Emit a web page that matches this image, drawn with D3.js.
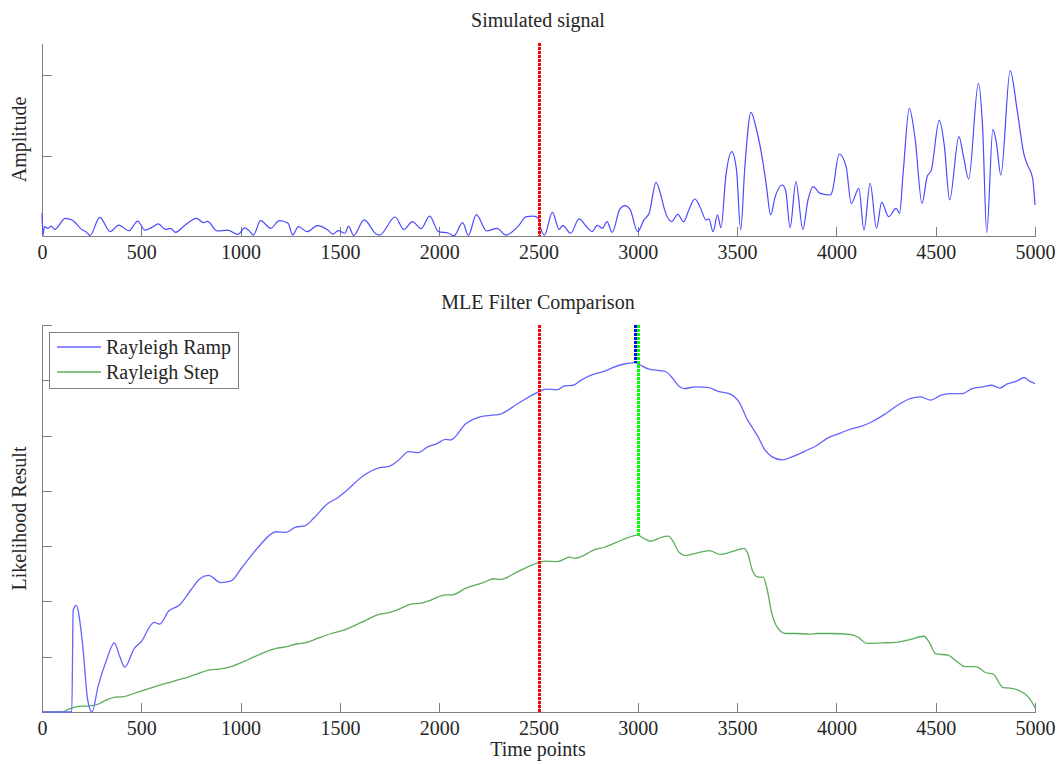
<!DOCTYPE html>
<html lang="en">
<head>
<meta charset="utf-8">
<title>Simulated signal / MLE Filter Comparison</title>
<script src="https://cdn.jsdelivr.net/npm/d3@7"></script>
<style>
body { margin: 0; background: #fff; }
svg { display: block; background: #fff; }
text { font-family: "Liberation Serif", "Times New Roman", serif; fill: #262626; }
.axis path, .axis line { stroke: #7f7f7f; stroke-width: 1; shape-rendering: crispEdges; }
.axis text { font-size: 20px; font-family: "Liberation Serif", serif; fill: #262626; }
.lbl { font-size: 20px; }
</style>
</head>
<body>
<svg id="chart" width="1062" height="764"></svg>
<script>

// time axis ticks
var xTicks = [0, 500, 1000, 1500, 2000, 2500, 3000, 3500, 4000, 4500, 5000];

// simulated signal (amplitude)
var sigT = [0, 5, 12, 30, 47, 64, 117, 151, 204, 221, 242, 291, 343, 386, 438, 482, 517, 552, 586, 621,
  647, 673, 717, 778, 813, 833, 882, 934, 987, 1021, 1039, 1065, 1100, 1152, 1195, 1239, 1262, 1291,
  1335, 1387, 1439, 1465, 1491, 1526, 1543, 1569, 1622, 1683, 1700, 1778, 1822, 1865, 1909, 1952,
  1996, 2048, 2074, 2118, 2147, 2187, 2239, 2292, 2335, 2396, 2439, 2474, 2500,
  2509, 2530, 2570, 2604, 2622, 2662, 2704, 2744, 2770, 2796, 2822, 2845, 2871, 2909, 2935, 2961,
  2999, 3031, 3057, 3092, 3118, 3135, 3170, 3201, 3231, 3257, 3287, 3313, 3344, 3358, 3379, 3401,
  3419, 3443, 3473, 3497, 3518, 3539, 3570, 3596, 3631, 3648, 3669, 3692, 3727, 3744, 3767, 3796,
  3831, 3857, 3883, 3918, 3970, 3979, 4014, 4049, 4075, 4113, 4139, 4170, 4202, 4228, 4263, 4301,
  4318, 4336, 4367, 4397, 4431, 4457, 4478, 4518, 4544, 4570, 4617, 4640, 4666, 4715, 4736, 4757,
  4788, 4806, 4828, 4875, 4910, 4945, 4962, 4988, 5000];
var sigV = [1.41, 0.06, 0.58, 0.48, 0.62, 0.41, 1.10, 1.00, 0.37, 0.27, 0.04, 1.16, 0.27, 0.68, 0.33, 0.93, 0.37, 0.52, 0.75, 0.41,
  0.48, 0.23, 0.64, 1.10, 0.83, 0.91, 0.31, 0.37, 0.10, 0.50, 0.37, 0.06, 0.95, 0.48, 0.95, 0.79, 0.06, 0.58,
  0.27, 0.64, 0.37, 0.12, 0.33, 0.17, 0.62, 0.04, 1.00, 0.12, 0.06, 1.18, 0.41, 0.89, 0.46, 1.24,
  0.27, 0.17, 0.02, 0.83, 0.04, 1.33, 0.31, 0.48, 0.06, 0.58, 1.20, 1.24, 1.10,
  0.58, 0.06, 1.47, 0.41, 0.66, 0.17, 1.06, 0.54, 0.27, 0.66, 0.48, 0.89, 0.23, 1.66, 1.89, 1.66,
  0.27, 1.00, 1.41, 3.34, 2.45, 1.62, 0.89, 1.35, 0.89, 1.62, 2.30, 1.82, 1.00, 1.06, 0.27, 1.31,
  0.52, 3.69, 5.24, 4.10, 0.37, 4.31, 7.69, 6.70, 4.52, 3.07, 1.31, 2.45, 3.17, 2.86, 0.52, 3.38,
  0.41, 2.24, 3.07, 2.65, 2.55, 2.76, 5.10, 4.31, 2.03, 2.96, 0.37, 3.28, 0.48, 2.09, 1.20, 1.72,
  1.41, 3.90, 7.94, 5.97, 2.03, 3.69, 4.10, 7.21, 5.56, 2.24, 6.18, 4.93, 3.54, 9.49, 6.80, 0.21,
  6.63, 5.76, 3.79, 10.28, 7.84, 5.04, 4.42, 3.59, 1.93];

// Rayleigh ramp filter output
var rampT = [0, 150, 157, 172, 204, 230, 252, 282, 325, 364, 392, 416, 465, 499, 564, 592, 639, 691, 752, 795,
  839, 900, 952, 1004, 1091, 1178, 1230, 1274, 1326, 1369, 1439, 1491, 1526, 1613, 1700, 1744, 1787,
  1848, 1891, 1944, 1987, 2031, 2057, 2135, 2205, 2266, 2309, 2396, 2500, 2535, 2596, 2631, 2674,
  2709, 2787, 2822, 2874, 2926, 2985, 3005, 3057, 3100, 3144, 3170, 3205, 3231, 3292, 3353, 3405,
  3466, 3509, 3553, 3579, 3605, 3640, 3675, 3727, 3779, 3849, 3901, 3953, 4023, 4075, 4127, 4179,
  4249, 4318, 4371, 4423, 4475, 4527, 4571, 4632, 4684, 4736, 4780, 4823, 4858, 4910, 4945, 4971, 5000];
var rampV = [0, 0, 1.84, 1.93, 1.24, 0.22, 0, 0.46, 0.94, 1.25, 1.00, 0.81, 1.15, 1.27, 1.62, 1.59, 1.83, 1.93, 2.22, 2.41,
  2.47, 2.34, 2.37, 2.60, 2.99, 3.26, 3.25, 3.34, 3.37, 3.51, 3.77, 3.88, 3.98, 4.26, 4.42, 4.44, 4.53,
  4.71, 4.69, 4.80, 4.85, 4.93, 4.92, 5.22, 5.34, 5.37, 5.39, 5.58, 5.79, 5.84, 5.83, 5.90, 5.91,
  5.99, 6.12, 6.15, 6.23, 6.29, 6.32, 6.29, 6.20, 6.18, 6.15, 6.06, 5.90, 5.85, 5.88, 5.87, 5.80,
  5.75, 5.61, 5.28, 5.13, 4.98, 4.74, 4.62, 4.56, 4.62, 4.73, 4.82, 4.95, 5.05, 5.12, 5.17, 5.25,
  5.40, 5.57, 5.67, 5.70, 5.64, 5.73, 5.76, 5.76, 5.85, 5.88, 5.91, 5.86, 5.93, 5.99, 6.05, 5.99, 5.94];

// Rayleigh step filter output
var stepT = [0, 99, 134, 186, 238, 282, 325, 369, 412, 482, 569, 656, 743, 847, 900, 952, 1039, 1108, 1178, 1230,
  1282, 1335, 1387, 1456, 1526, 1613, 1700, 1752, 1804, 1857, 1909, 1961, 2031, 2065, 2135, 2222,
  2274, 2309, 2396, 2500, 2535, 2596, 2657, 2683, 2787, 2831, 2926, 3000, 3031, 3066, 3118, 3153,
  3179, 3205, 3240, 3292, 3361, 3414, 3483, 3535, 3553, 3579, 3605, 3631, 3648, 3675, 3701, 3744,
  3796, 3866, 3901, 3970, 4075, 4110, 4153, 4231, 4301, 4371, 4440, 4466, 4501, 4562, 4597, 4649,
  4701, 4753, 4788, 4840, 4875, 4945, 4971, 5000];
var stepV = [0, 0, 0.05, 0.10, 0.11, 0.14, 0.22, 0.27, 0.28, 0.36, 0.46, 0.55, 0.64, 0.76, 0.78, 0.82, 0.95, 1.06, 1.15, 1.18,
  1.23, 1.26, 1.33, 1.42, 1.49, 1.63, 1.77, 1.80, 1.87, 1.95, 1.97, 2.03, 2.12, 2.12, 2.24, 2.34,
  2.41, 2.40, 2.54, 2.70, 2.73, 2.72, 2.80, 2.78, 2.94, 2.98, 3.12, 3.20, 3.14, 3.09, 3.16, 3.18,
  3.08, 2.90, 2.83, 2.87, 2.92, 2.85, 2.91, 2.96, 2.87, 2.54, 2.44, 2.44, 2.27, 1.78, 1.54, 1.42,
  1.42, 1.41, 1.42, 1.42, 1.40, 1.35, 1.24, 1.25, 1.26, 1.31, 1.37, 1.27, 1.05, 1.03, 0.94, 0.82,
  0.82, 0.71, 0.69, 0.44, 0.43, 0.34, 0.25, 0.08];

// change point and filter estimates
var trueChange = 2500;
var rampPeakT = 2985, rampPeakV = 6.32;
var stepPeakT = 3000, stepPeakV = 3.20;

var legendNames = ["Rayleigh Ramp", "Rayleigh Step"];

var svg = d3.select("#chart");

var x = d3.scaleLinear().domain([0, 5000]).range([42, 1035]);
var yTop = d3.scaleLinear().domain([0, 12]).range([236, 43]);
var yBot = d3.scaleLinear().domain([0, 7]).range([712, 325]);

function zip(t, v) { return t.map(function(d, i) { return [d, v[i]]; }); }

function drawAxes(y, yTicks) {
  svg.append("g")
      .attr("class", "axis")
      .attr("transform", "translate(0," + y.range()[0] + ")")
      .call(d3.axisBottom(x).tickValues(xTicks).tickSizeInner(-9).tickSizeOuter(0).tickPadding(9).tickFormat(d3.format("d")));
  svg.append("g")
      .attr("class", "axis")
      .attr("transform", "translate(" + x.range()[0] + ",0)")
      .call(d3.axisLeft(y).tickValues(yTicks).tickSizeInner(-10).tickSizeOuter(0).tickFormat(""));
}

// dotted marker line, snapped to whole pixels so the dots stay crisp
function vline(t, y0, y1, color) {
  var px = Math.round(x(t)) + 0.5;
  svg.append("line")
      .attr("x1", px).attr("x2", px)
      .attr("y1", Math.round(y0)).attr("y2", Math.round(y1))
      .attr("stroke", color)
      .attr("stroke-width", 3)
      .attr("stroke-dasharray", "3,1");
}

// ---- top panel: simulated signal ----
drawAxes(yTop, [5, 10]);

svg.append("path")
    .datum(zip(sigT, sigV))
    .attr("fill", "none")
    .attr("stroke", "#4a4aff")
    .attr("stroke-width", 1.2)
    .attr("d", d3.line().x(function(d) { return x(d[0]); }).y(function(d) { return yTop(d[1]); }).curve(d3.curveMonotoneX));

vline(trueChange, yTop(12), yTop(0), "#ff0000");

svg.append("text").attr("class", "lbl")
    .attr("x", 538).attr("y", 26.5)
    .attr("text-anchor", "middle")
    .text("Simulated signal");

svg.append("text").attr("class", "lbl")
    .attr("transform", "translate(26," + yTop(6) + ") rotate(-90)")
    .attr("text-anchor", "middle")
    .text("Amplitude");

// ---- bottom panel: filter comparison ----
drawAxes(yBot, [1, 2, 3, 4, 5, 6, 7]);

var lineB = d3.line().x(function(d) { return x(d[0]); }).y(function(d) { return yBot(d[1]); }).curve(d3.curveMonotoneX);

svg.append("path")
    .datum(zip(stepT, stepV))
    .attr("fill", "none")
    .attr("stroke", "#5aae5a")
    .attr("stroke-width", 1.3)
    .attr("d", lineB);

svg.append("path")
    .datum(zip(rampT, rampV))
    .attr("fill", "none")
    .attr("stroke", "#6464ff")
    .attr("stroke-width", 1.3)
    .attr("d", lineB);

vline(trueChange, yBot(7), yBot(0), "#ff0000");
vline(rampPeakT, yBot(7), yBot(rampPeakV), "#0000ff");
vline(stepPeakT, yBot(7), yBot(stepPeakV), "#00ff00");

svg.append("text").attr("class", "lbl")
    .attr("x", 538).attr("y", 309)
    .attr("text-anchor", "middle")
    .text("MLE Filter Comparison");

svg.append("text").attr("class", "lbl")
    .attr("x", 538).attr("y", 756)
    .attr("text-anchor", "middle")
    .text("Time points");

svg.append("text").attr("class", "lbl")
    .attr("transform", "translate(26," + yBot(3.5) + ") rotate(-90)")
    .attr("text-anchor", "middle")
    .text("Likelihood Result");

// legend
var legend = svg.append("g").attr("transform", "translate(49,332)");
legend.append("rect")
    .attr("width", 189).attr("height", 56)
    .attr("fill", "#fff")
    .attr("stroke", "#7f7f7f")
    .attr("shape-rendering", "crispEdges");
var legendColors = ["#6464ff", "#5aae5a"];
legendNames.forEach(function(name, i) {
  var ly = 15 + i * 25;
  legend.append("line")
      .attr("x1", 8).attr("x2", 52)
      .attr("y1", ly).attr("y2", ly)
      .attr("stroke", legendColors[i]).attr("stroke-width", 1.3);
  legend.append("text").attr("class", "lbl")
      .attr("x", 57).attr("y", ly + 7)
      .text(name);
});

</script>
</body>
</html>
